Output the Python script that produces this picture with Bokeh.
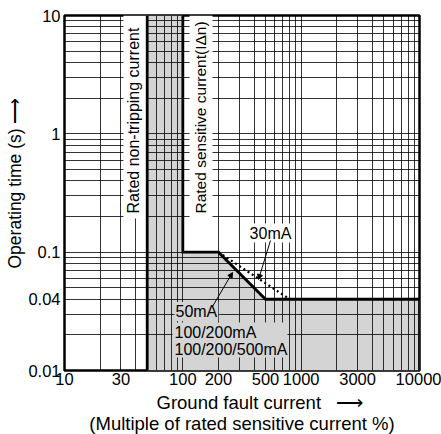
import math
from bokeh.plotting import figure
from bokeh.models import Range1d, FixedTicker, Label, Arrow, NormalHead, Title
from bokeh.embed import file_html
from bokeh.resources import INLINE

# ---- data ----
x_ticks = [10, 30, 100, 200, 500, 1000, 3000, 10000]
x_tick_labels = ["10", "30", "100", "200", "500", "1000", "3000", "10000"]
y_ticks = [0.01, 0.04, 0.1, 1, 10]
y_tick_labels = ["0.01", "0.04", "0.1", "1", "10"]
grid_x = [m * 10 ** e for e in (1, 2, 3) for m in range(1, 10)] + [10000]
grid_y = [round(m * 10.0 ** e, 4) for e in (-2, -1, 0) for m in range(1, 10)] + [10]

nontrip_current = [50, 50]
nontrip_time = [0.01, 10]
sens_current = [100, 100, 200, 500, 10000, 10000]
sens_time = [10, 0.1, 0.1, 0.04, 0.04, 0.01]
ma30_current = [200, 800]
ma30_time = [0.1, 0.04]
zone_current = [50, 100, 100, 200, 500, 10000, 10000, 50]
zone_time = [10, 10, 0.1, 0.1, 0.04, 0.04, 0.01, 0.01]

FONT = "Liberation Sans"
GRAY = "#d4d4d4"
NB = "\u00a0"
ARROW = "\u27f6"

p = figure(width=441, height=434, x_axis_type="log", y_axis_type="log",
           x_range=Range1d(10, 10000), y_range=Range1d(0.01, 10),
           output_backend="svg", toolbar_location=None,
           min_border_left=64, min_border_right=22, min_border_top=15, min_border_bottom=64)
p.background_fill_color = "white"
p.border_fill_color = "white"
p.outline_line_color = "black"
p.outline_line_width = 2.5

# grid
p.xgrid.ticker = FixedTicker(ticks=grid_x)
p.ygrid.ticker = FixedTicker(ticks=grid_y)
for g in (p.xgrid, p.ygrid):
    g.grid_line_color = "black"
    g.grid_line_alpha = 0.8
    g.grid_line_width = 1

# axes
p.xaxis.ticker = FixedTicker(ticks=x_ticks)
p.yaxis.ticker = FixedTicker(ticks=y_ticks)
p.xaxis.major_label_overrides = {t: s for t, s in zip(x_ticks, x_tick_labels)}
p.yaxis.major_label_overrides = {t: s for t, s in zip(y_ticks, y_tick_labels)}
for ax in (p.xaxis, p.yaxis):
    ax.axis_line_color = None
    ax.major_tick_line_color = None
    ax.minor_tick_line_color = None
    ax.major_tick_out = 0
    ax.major_tick_in = 0
    ax.major_label_text_font = FONT
    ax.major_label_text_font_size = "16.5px"
    ax.major_label_text_color = "black"
    ax.axis_label_text_font = FONT
    ax.axis_label_text_font_style = "normal"
    ax.axis_label_text_color = "black"
p.xaxis.major_label_standoff = 2
p.yaxis.major_label_standoff = 4

# x-axis title: first line (with arrow) as the axis label, second line as a title below
p.xaxis.axis_label = NB * 7 + "Ground fault current" + NB * 3 + ARROW
p.xaxis.axis_label_text_font_size = "18.5px"
p.xaxis.axis_label_standoff = 4
p.add_layout(Title(text="(Multiple of rated sensitive current %)", align="center",
                   vertical_align="top", standoff=-6, text_font=FONT,
                   text_font_size="18.5px", text_font_style="normal",
                   text_color="black"), "below")
# y-axis title
p.add_layout(Title(text="Operating time (s)" + NB + ARROW, align="left", offset=102,
                   vertical_align="middle", standoff=0, text_font=FONT,
                   text_font_size="17.5px", text_font_style="normal",
                   text_color="black"), "left")

# gray operating zone (below grid)
p.patch(zone_current, zone_time, fill_color=GRAY, line_color=None, level="image")

# white boxes behind vertical labels
p.quad(left=[31.5, 113.9], right=[50, 178.1], bottom=[0.1925, 0.1925], top=[10, 10],
       fill_color="white", line_color=None)
# gray box behind lower labels
p.quad(left=[81.8], right=[766.6], bottom=[0.01288], top=[0.02544],
       fill_color=GRAY, line_color=None)

# curves
p.line(nontrip_current, nontrip_time, line_color="black", line_width=2.8)
p.line(sens_current, sens_time, line_color="black", line_width=2.8, line_join="miter")
p.line(ma30_current, ma30_time, line_color="black", line_width=2.2, line_dash="2 3")


def lab(x, y, text, size="16px", align="left", baseline="middle", angle=0.0, bg=None):
    kw = dict(x=x, y=y, text=text, text_font=FONT, text_font_size=size,
              text_align=align, text_baseline=baseline, angle=angle, text_color="black")
    if bg is not None:
        kw.update(background_fill_color=bg, padding=1)
    p.add_layout(Label(**kw))


lab(38.3, 0.2122, "Rated non-tripping current", angle=math.pi / 2)
lab(141.1, 0.2122, "Rated sensitive current(I\u0394n)", size="15.5px", angle=math.pi / 2)
lab(550.6, 0.1452, "30mA", align="center", bg="white")
lab(85.0, 0.0315, "50mA", bg=GRAY)
lab(85.0, 0.02115, "100/200mA")
lab(85.0, 0.01504, "100/200/500mA")

# leader lines
p.add_layout(Arrow(end=NormalHead(size=5, fill_color="black", line_color="black"),
                   x_start=550.6, y_start=0.1255, x_end=436, y_end=0.05875,
                   line_color="black", line_width=1))
p.add_layout(Arrow(end=NormalHead(size=5, fill_color="black", line_color="black"),
                   x_start=178.1, y_start=0.03473, x_end=262.8, y_end=0.0673,
                   line_color="black", line_width=1))

open("out.html", "w").write(file_html(p, INLINE))
